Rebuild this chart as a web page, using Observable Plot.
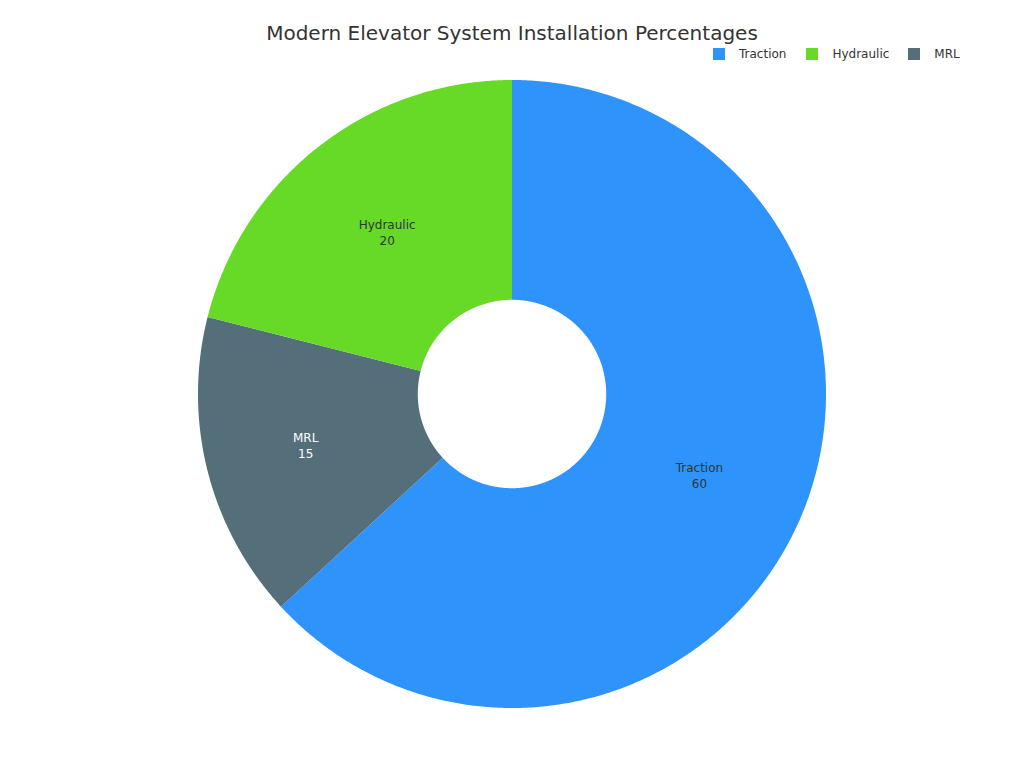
<!DOCTYPE html>
<html>
<head>
<meta charset="utf-8">
<script src="https://cdn.jsdelivr.net/npm/d3@7"></script>
<script src="https://cdn.jsdelivr.net/npm/@observablehq/plot@0.6"></script>
<style>
  html, body { margin: 0; padding: 0; background: #fff; }
  body { width: 1024px; height: 768px; overflow: hidden; font-family: "DejaVu Sans", sans-serif; }
  #header { position: relative; height: 66px; }
  #title { position: absolute; left: 0; width: 1024px; top: 21px; text-align: center; font-size: 20px; color: #333; line-height: 24px; }
  #legend { position: absolute; top: 47px; left: 713px; font-size: 12px; color: #333; display: flex; align-items: center; line-height: 14px; }
  .item { display: flex; align-items: center; margin-right: 20px; }
  .item:nth-child(2) { margin-right: 19px; }
  .sw { width: 12px; height: 12px; margin-right: 14px; }
</style>
</head>
<body>
<div id="header">
  <div id="title">Modern Elevator System Installation Percentages</div>
  <div id="legend"></div>
</div>
<div id="chart"></div>
<script>
const categories = ["Traction", "MRL", "Hydraulic"];
const values = [60, 15, 20];
const legendOrder = ["Traction", "Hydraulic", "MRL"];
const colors = ["#2E93FA", "#546E7A", "#66DA26"];
const labelColors = ["#333333", "#ffffff", "#333333"];

const innerRatio = 0.3;
const total = d3.sum(values);
let acc = 0;
const slices = categories.map((name, i) => {
  const a0 = acc / total * 2 * Math.PI;
  acc += values[i];
  const a1 = acc / total * 2 * Math.PI;
  return {name, value: values[i], a0, a1, labelColor: labelColors[i]};
});

// sector outlines sampled along the arc
const arcPts = [];
for (const s of slices) {
  const n = Math.max(2, Math.ceil((s.a1 - s.a0) / (Math.PI / 360)));
  for (let k = 0; k <= n; k++) {
    const a = s.a0 + (s.a1 - s.a0) * k / n;
    arcPts.push({
      name: s.name,
      xi: innerRatio * Math.sin(a), yi: innerRatio * Math.cos(a),
      xo: Math.sin(a), yo: Math.cos(a)
    });
  }
}
const labels = slices.map(s => {
  const m = (s.a0 + s.a1) / 2, r = (1 + innerRatio) / 2;
  return {...s, x: r * Math.sin(m), y: r * Math.cos(m), text: `${s.name}\n${s.value}`};
});

const cx = 512, cy = 394 - 66, R = 314;
const chart = Plot.plot({
  width: 1024,
  height: 702,
  margin: 0,
  style: {fontFamily: "DejaVu Sans, sans-serif", background: "#fff"},
  x: {domain: [-1, 1], range: [cx - R, cx + R], axis: null},
  y: {domain: [-1, 1], range: [cy + R, cy - R], axis: null},
  color: {domain: categories, range: colors},
  marks: [
    Plot.area(arcPts, {x1: "xi", y1: "yi", x2: "xo", y2: "yo", z: "name", fill: "name", curve: "linear"}),
    Plot.text(labels.filter(d => d.name !== "MRL"), {x: "x", y: "y", text: "text", fill: "labelColor", fontSize: 12, lineHeight: 1.33, dy: -2}),
    Plot.text(labels.filter(d => d.name === "MRL"), {x: "x", y: "y", text: "text", fill: "labelColor", fontSize: 12, lineHeight: 1.33, dy: 0, dx: -9})
  ]
});
document.getElementById("chart").appendChild(chart);

const color = chart.scale("color");
const leg = document.getElementById("legend");
legendOrder.forEach(name => {
  const item = document.createElement("div");
  item.className = "item";
  const sw = document.createElement("div");
  sw.className = "sw";
  sw.style.background = color.range[color.domain.indexOf(name)];
  const t = document.createElement("span");
  t.textContent = name;
  item.appendChild(sw); item.appendChild(t);
  leg.appendChild(item);
});
</script>
</body>
</html>
